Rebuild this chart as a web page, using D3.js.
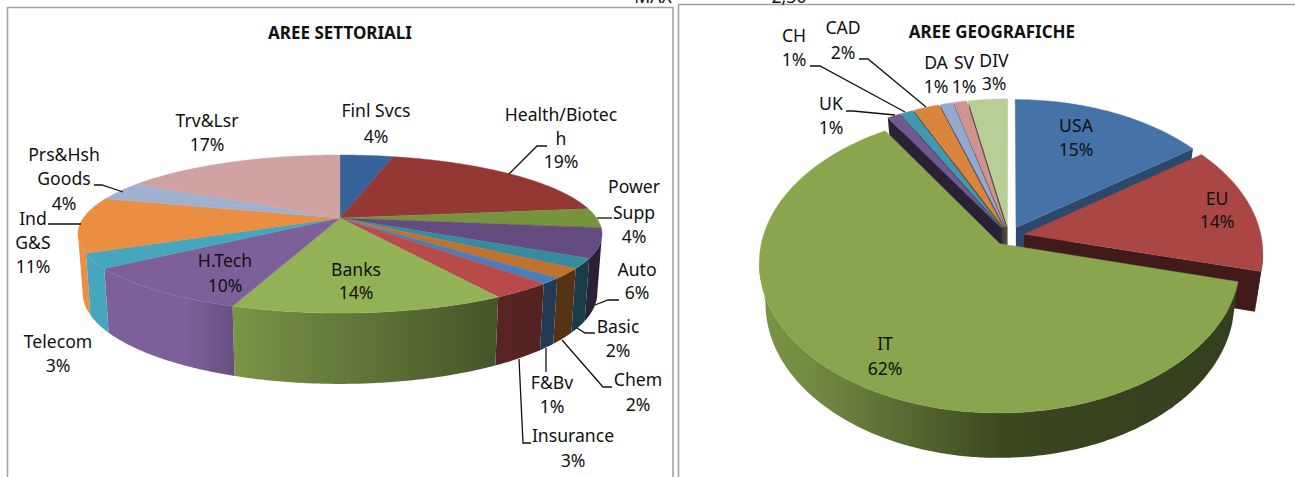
<!DOCTYPE html>
<html>
<head>
<meta charset="utf-8">
<script src="https://cdnjs.cloudflare.com/ajax/libs/d3/7.8.5/d3.min.js"></script>
<style>
  html, body { margin: 0; padding: 0; background: #fff; overflow: hidden; }
  svg { display: block; }
  text { font-family: 'Noto Sans', sans-serif; font-size: 17.6px; fill: #111; text-anchor: middle; }
  .title { font-weight: bold; font-size: 17px; }
  .frame { fill: none; stroke: #a3a3a3; stroke-width: 1.6; }
  .leader { fill: none; stroke: #111; stroke-width: 1.3; }
</style>
</head>
<body>
<svg id="chart" width="1295" height="477"></svg>
<script>
// sector chart, clockwise from 12 o'clock
var sectorNames = ['Finl Svcs', 'Health/Biotec\nh', 'Power\nSupp', 'Auto', 'Basic', 'Chem', 'F&Bv',
  'Insurance', 'Banks', 'H.Tech', 'Telecom', 'Ind\nG&S', 'Prs&Hsh\nGoods', 'Trv&Lsr'];
var sectorValues = [4, 19, 4, 6, 2, 2, 1.2, 3.3, 14, 9.5, 3, 11.3, 3.9, 16.8];
var sectorColors = ['#38629a', '#953735', '#77933c', '#644b80', '#388a9f', '#c0722f', '#4a7ebb',
  '#b84b49', '#93b255', '#7d5f9a', '#46a6be', '#eb8e42', '#a0b1cf', '#cfa2a1'];

// geographic chart, clockwise from 12 o'clock
var areaNames = ['USA', 'EU', 'IT', 'UK', 'CH', 'CAD', 'DA', 'SV', 'DIV'];
var areaValues = [15, 14, 62, 1, 1, 2, 1, 1, 3];
var areaColors = ['#4572a7', '#aa4643', '#89a54e', '#71588f', '#4198af', '#db843d', '#93a9cf', '#d19392', '#b9cd96'];
var areaWallShade = [0.64, 0.38, 0.4, 0.38, 0.4, 0.4, 0.4, 0.4, 0.4];

// label placement: centre x and one baseline per line
var sectorLabelPos = [[376, [117, 143]], [561, [121, 145, 168]], [634, [193, 219, 243]], [637, [276, 299]],
  [618, [333, 357]], [638, [386, 411]], [552, [389, 413]], [573, [442, 467]], [356, [276, 299]],
  [225, [267, 292]], [58, [348, 372]], [33, [225, 249, 273]], [64, [161, 185, 210]], [207, [127, 151]]];
var areaLabelPos = [[1076, [132, 156]], [1217, [205, 228]], [885, [350, 375]], [831, [110, 134]],
  [794, [42, 66]], [843, [34, 59]], [936, [69, 93]], [964, [69, 93]], [994, [67, 90]]];

var sectorLeaders = [
  [[509, 174], [537, 146], [547, 146]], [[597, 218], [612, 218]],
  [[595, 305], [608, 300], [619, 300]], [[577, 328], [585, 333], [595, 333]],
  [[562, 340], [603, 387], [612, 387]], [[546, 348], [546, 372]],
  [[519, 359], [523, 443], [531, 443]], [[123, 192], [102, 185], [94, 185]], [[81, 224], [48, 224]]
];
var areaLeaders = [
  [[905, 112], [820, 66], [810, 66]], [[926, 107], [868, 59], [859, 59]], [[895, 115], [853, 111], [846, 111]]
];

var svg = d3.select('#chart');
var defs = svg.append('defs');
var gradId = 0;
var line = d3.line();
var TAU = Math.PI * 2;

function scaled(c, k) {
  return d3.rgb(c.r * k, c.g * k, c.b * k);
}

function drawPie(opts) {
  var x = d3.scaleLinear([-1, 1], [opts.cx - opts.rx, opts.cx + opts.rx]);
  var y = d3.scaleLinear([-1, 1], [opts.cy - opts.ry, opts.cy + opts.ry]);
  var shade = d3.scaleLinear(opts.shadeAt, opts.shadeBy).clamp(true);
  var walls = svg.append('g');
  var g = svg.append('g');

  // u across, v towards the viewer, h from top face (0) to bottom face (1)
  function project(u, v, h) {
    var f = 1 / (1 - opts.persp * v);
    return [x(u * f * (1 - opts.shrink * h)), y(v * f) + opts.depth * f * h];
  }

  function rimAngles(a0, a1) {
    var n = Math.max(2, Math.ceil((a1 - a0) / 0.01));
    return d3.range(n + 1).map(function (i) { return a0 + (a1 - a0) * i / n; });
  }

  var arcs = d3.pie().sort(null).value(function (d) { return d; })(opts.values);
  arcs.forEach(function (d) {
    var mid = (d.startAngle + d.endAngle) / 2;
    d.ox = opts.explode * Math.sin(mid);
    d.oy = -opts.explode * Math.cos(mid);
    d.rim = function (a, h) { return project(d.ox + Math.sin(a), d.oy - Math.cos(a), h); };
    d.apex = function (h) { return project(d.ox, d.oy, h); };
  });

  // back slices first so the nearer ones paint over them
  var order = arcs.slice().sort(function (a, b) { return a.oy - b.oy; });
  // the widest point of the perspective ellipse, where the outer wall starts to show
  var edge = Math.acos(-opts.persp);

  order.forEach(function (d) {
    var base = d3.rgb(opts.colors[d.index]);
    // a flat pie keeps all walls under the faces, an exploded one paints slice by slice
    var wallLayer = opts.explode > 0 ? g : walls;

    if (opts.explode > 0) {
      var wallA = null;
      if (Math.sin(d.endAngle) > 0) wallA = d.endAngle;
      else if (Math.sin(d.startAngle) < 0) wallA = d.startAngle;
      if (wallA !== null) {
        wallLayer.append('path')
          .attr('d', line([d.apex(0), d.rim(wallA, 0), d.rim(wallA, 1), d.apex(1)]) + 'Z')
          .attr('fill', scaled(base, opts.wallShade[d.index]));
      }
    }

    var a0 = Math.max(d.startAngle, edge), a1 = Math.min(d.endAngle, TAU - edge);
    if (a1 > a0) {
      var angles = rimAngles(a0, a1);
      var upper = angles.map(function (a) { return d.rim(a, 0); });
      var lower = angles.map(function (a) { return d.rim(a, 1); }).reverse();
      var xr = d3.extent(upper.concat(lower), function (p) { return p[0]; });
      var id = 'wall' + (gradId++);
      var grad = defs.append('linearGradient').attr('id', id)
        .attr('gradientUnits', 'userSpaceOnUse')
        .attr('x1', xr[0]).attr('x2', xr[1]).attr('y1', 0).attr('y2', 0);
      d3.range(9).forEach(function (i) {
        var px = xr[0] + (xr[1] - xr[0]) * i / 8;
        grad.append('stop').attr('offset', i / 8)
          .attr('stop-color', scaled(base, shade(x.invert(px))));
      });
      wallLayer.append('path').attr('d', line(upper.concat(lower)) + 'Z').attr('fill', 'url(#' + id + ')');
    }

    var top = rimAngles(d.startAngle, d.endAngle).map(function (a) { return d.rim(a, 0); });
    g.append('path').attr('d', line([d.apex(0)].concat(top)) + 'Z')
      .attr('fill', base).attr('stroke', base).attr('stroke-width', 0.4);
  });

  // labels: name lines then the rounded share
  var total = d3.sum(opts.values);
  opts.names.forEach(function (name, i) {
    var rows = name.split('\n').concat([Math.round(opts.values[i] / total * 100) + '%']);
    var pos = opts.labelPos[i];
    rows.forEach(function (row, j) {
      g.append('text').attr('x', pos[0]).attr('y', pos[1][j]).text(row);
    });
  });

  g.selectAll('path.leader').data(opts.leaders).enter().append('path')
    .attr('class', 'leader')
    .attr('d', function (d) { return line(d); });
}

// chart frames, open at the crop edge
svg.append('path').attr('class', 'frame').attr('d', 'M7.5,480V7.5H673V480');
svg.append('path').attr('class', 'frame').attr('d', 'M678.5,480V4.5H1295');

// spreadsheet cells clipped by the top of the crop
svg.append('text').attr('x', 653).attr('y', 3).text('MAX');
svg.append('text').attr('x', 789).attr('y', 3).text('2,30');

svg.append('text').attr('class', 'title').attr('x', 340).attr('y', 39).text('AREE SETTORIALI');
svg.append('text').attr('class', 'title').attr('x', 992).attr('y', 38).text('AREE GEOGRAFICHE');

drawPie({
  cx: 340, cy: 218, rx: 256.6, ry: 75.8, persp: 0.2026, depth: 56.5, shrink: 0.018, explode: 0,
  values: sectorValues, names: sectorNames, colors: sectorColors,
  labelPos: sectorLabelPos, leaders: sectorLeaders,
  shadeAt: [-0.6, -0.4, 0.6, 1], shadeBy: [1, 0.82, 0.48, 0.43]
});

drawPie({
  cx: 1009, cy: 236, rx: 237, ry: 146, persp: 0.125, depth: 39, shrink: 0.025, explode: 0.065,
  values: areaValues, names: areaNames, colors: areaColors, wallShade: areaWallShade,
  labelPos: areaLabelPos, leaders: areaLeaders,
  shadeAt: [-0.95, -0.45, 0, 1], shadeBy: [0.9, 0.65, 0.42, 0.38]
});
</script>
</body>
</html>
